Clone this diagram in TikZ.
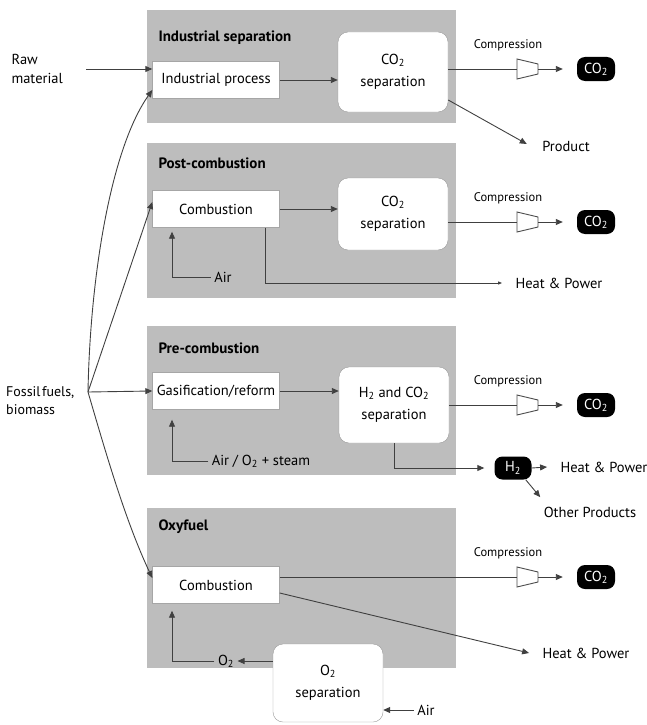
\documentclass[tikz,border=0pt]{standalone}
\usepackage{fontspec}
\setmainfont{PT Sans}
\usetikzlibrary{arrows.meta}
\tikzset{
  panel/.style={fill=black!26},
  title/.style={anchor=west, font=\bfseries\fontsize{15}{17}\selectfont},
  proc/.style={fill=white, draw=black!35, minimum width=127pt, minimum height=37pt, inner sep=2pt},
  sepbox/.style={fill=white, draw=black!40, rounded corners=10pt, minimum width=110pt,
    align=center, font=\fontsize{14.5}{22}\selectfont},
  pill/.style={fill=black, text=white, rounded corners=8pt, minimum width=38pt,
    minimum height=24pt, inner sep=1pt},
  small/.style={font=\fontsize{12.5}{14}\selectfont},
  line/.style={draw=black!75, line width=0.9pt},
  arr/.style={line, -{Triangle[length=7pt,width=6pt]}},
}
\begin{document}
\begin{tikzpicture}[x=1pt,y=-1pt,font=\fontsize{14.5}{17}\selectfont]
  \useasboundingbox (0,0) rectangle (647,725);
  % four process panels
  \fill[panel] (147,10) rectangle (456,123);
  \fill[panel] (147,143) rectangle (456,298);
  \fill[panel] (147,326) rectangle (456,475);
  \fill[panel] (147,508) rectangle (456,668);
  \node[title] (t1) at (155,38) {Industrial separation};
  \node[title] (t2) at (155,163) {Post-combustion};
  \node[title] (t3) at (155,348) {Pre-combustion};
  \node[title] (t4) at (155,527) {Oxyfuel};

  \node[proc] (ip) at (216,80) {Industrial process};
  \node[proc] (comb1) at (216,209) {Combustion};
  \node[proc] (gas) at (216,391) {Gasification/reform};
  \node[proc] (comb4) at (216,585) {Combustion};

  \node[sepbox, minimum height=80pt] (sep1) at (393,72) {CO\textsubscript{2}\\separation};
  \node[sepbox, minimum height=72pt] (sep2) at (393,214) {CO\textsubscript{2}\\separation};
  \node[sepbox, minimum height=76pt] (sep3) at (394,405) {H\textsubscript{2} and CO\textsubscript{2}\\separation};
  \node[sepbox, minimum height=78pt] (o2sep) at (328,683) {O\textsubscript{2}\\separation};

  \node[anchor=west, align=left, font=\fontsize{14.5}{19}\selectfont] (raw) at (8,69) {Raw\\material};
  \node[anchor=west, align=left, inner sep=1pt, font=\fontsize{14}{18}\selectfont] (fossil) at (5,401)
    {Fossil\hspace{1.5pt}fuels,\\biomass};
  \coordinate (ff) at (88,392);

  % inputs
  \draw[arr] ([xshift=20pt]raw.east) -- (ip.west |- raw.east);
  \draw[arr] (ff) .. controls (90,280) and (110,150) .. ([yshift=-10pt]ip.west);
  \draw[arr] (ff) -- ([yshift=7pt]comb1.west);
  \draw[arr] (ff) -- (gas.west);
  \draw[arr] (ff) .. controls (105,450) and (125,520) .. ([yshift=7pt]comb4.west);

  % separation steps
  \draw[arr] (ip.east) -- (ip.east -| sep1.west);
  \draw[arr] (comb1.east) -- (comb1.east -| sep2.west);
  \draw[arr] (gas.east) -- (gas.east -| sep3.west);

  % compression of the captured CO2
  \foreach \s/\y/\n in {sep1/69/1, sep2/222/2, sep3/405/3, comb4/577/4} {
    \node[small] (cl\n) at (508,\y-24) {Compression};
    \coordinate (kin\n) at (517,\y);
    \coordinate (kout\n) at (538,\y);
    \draw[draw=black!70, line width=0.9pt, fill=white]
      (517,\y-10) -- (538,\y-5) -- (538,\y+5) -- (517,\y+10) -- cycle;
    \node[pill] (co\n) at (596,\y) {CO\textsubscript{2}};
    \draw[line] (\s.east |- kin\n) -- (kin\n);
    \draw[arr] (kout\n) -- ([xshift=-14pt]co\n.west);
  }

  % industrial separation
  \node (prod) at (566,146) {Product};
  \draw[arr] ([yshift=-28pt]sep1.east) -- ([xshift=-12pt,yshift=2pt]prod.west);

  % post-combustion
  \node (air1) at (223,277) {Air};
  \node (hp1) at (559,283) {Heat \& Power};
  \draw[arr] (air1.west) -| ([xshift=-44pt,yshift=-4pt]comb1.south);
  \draw[line, -{Triangle[length=4pt,width=3pt]}] ([xshift=49pt]comb1.south) |- ([xshift=-10pt]hp1.west);

  % pre-combustion
  \node (air3) at (261,461) {Air / O\textsubscript{2} + steam};
  \draw[arr] (air3.west) -| ([xshift=-44pt,yshift=-10pt]gas.south);
  \node[pill, minimum width=37pt, minimum height=23pt] (h2) at (513,468) {H\textsubscript{2}};
  \node (hp3) at (604,467) {Heat \& Power};
  \node (oth) at (590,512) {Other Products};
  \draw[arr] (sep3.south) |- ([xshift=-10pt]h2.west);
  \draw[arr] (h2.east) -- ([xshift=-10pt]hp3.west);
  \draw[arr] ([xshift=-6pt]h2.south east) -- ([yshift=6pt]oth.north west);

  % oxyfuel
  \node (hp4) at (586,653) {Heat \& Power};
  \draw[arr] ([yshift=-8pt]comb4.east) -- ([xshift=-10pt]hp4.west);
  \node (o2) at (226,661) {O\textsubscript{2}};
  \draw[arr] (o2sep.west |- o2) -- (o2.east);
  \draw[arr] (o2.west) -| ([xshift=-44pt,yshift=-7pt]comb4.south);
  \node (air4) at (426,710) {Air};
  \draw[arr] (air4.west) -- (o2sep.east |- air4.west);
\end{tikzpicture}
\end{document}
